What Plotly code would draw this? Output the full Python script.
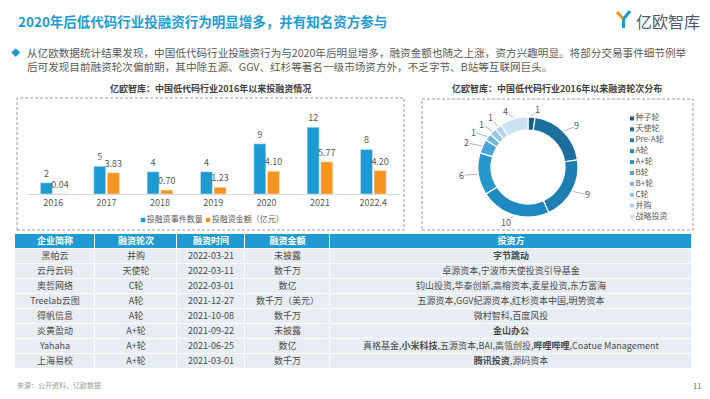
import math
import plotly.graph_objects as go

W, H = 710, 399

# ---------------- data ----------------
years = ["2016", "2017", "2018", "2019", "2020", "2021", "2022.4"]
series_names = ["投融资事件数量", "投融资金额（亿元）"]
deal_counts = [2, 5, 4, 4, 9, 12, 8]
deal_amounts = [0.04, 3.83, 0.70, 1.23, 4.10, 5.77, 4.20]

rounds = ["种子轮", "天使轮", "Pre-A轮", "A轮", "A+轮", "B轮", "B+轮", "C轮", "并购", "战略投资"]
round_counts = [1, 9, 9, 10, 6, 2, 1, 1, 1, 4]
round_colors = ["#145f86", "#1a6f9c", "#1d7eb1", "#1f8ac2", "#2696cd", "#4aa6d6",
                "#72b6de", "#94c6e5", "#b3d5ed", "#c9e1f3"]

tbl_headers = ["企业简称", "融资轮次", "融资时间", "融资金额", "投资方"]
tbl_company = ["黑帕云", "云丹云码", "奥哲网络", "Treelab云图", "得帆信息", "炎黄盈动", "Yahaha", "上海易校"]
tbl_round = ["并购", "天使轮", "C轮", "A轮", "A轮", "A+轮", "A+轮", "A+轮"]
tbl_date = ["2022-03-21", "2022-03-11", "2022-03-01", "2021-12-27", "2021-10-08",
            "2021-09-22", "2021-06-25", "2021-03-01"]
tbl_amount = ["未披露", "数千万", "数亿", "数千万（美元）", "数千万", "未披露", "数亿", "数千万"]
tbl_investor = ["<b>字节跳动</b>",
                "卓源资本,宁波市天使投资引导基金",
                "钧山投资,华泰创新,高榕资本,麦星投资,东方富海",
                "五源资本,GGV纪源资本,红杉资本中国,明势资本",
                "微村智科,百度风投",
                "<b>金山办公</b>",
                "真格基金,<b>小米科技</b>,五源资本,BAI,高瓴创投,<b>哔哩哔哩</b>,Coatue Management",
                "<b>腾讯投资</b>,源码资本"]

# ---------------- style constants ----------------
FONT = "Noto Sans CJK SC, Noto Sans, sans-serif"
BLUE = "#1e9bd3"
ORANGE = "#f7941d"
GRAY = "#595959"
COL_WIDTHS = [80, 82, 68, 85, 362]
LEGEND_X = [143, 208]


def px(x):
    return x / W


def py(y):
    return 1 - y / H


fig = go.Figure()

# ---------------- bar chart ----------------
fig.add_trace(go.Bar(
    x=years, y=deal_counts, name=series_names[0], marker_color=BLUE,
    texttemplate="%{y}", textposition="outside", constraintext="none",
    textfont=dict(size=9, color=GRAY), cliponaxis=False, showlegend=False,
    hoverinfo="skip",
))
fig.add_trace(go.Bar(
    x=years, y=deal_amounts, name=series_names[1], marker_color=ORANGE,
    texttemplate="%{y:.2f}", textposition="outside", constraintext="none",
    textfont=dict(size=9, color=GRAY), cliponaxis=False, showlegend=False,
    hoverinfo="skip",
))
# compact bar legend (marker + text)
fig.add_trace(go.Scatter(
    x=LEGEND_X, y=[0, 0], mode="markers+text", text=series_names,
    textposition="middle right", textfont=dict(size=8, color=GRAY, family=FONT),
    marker=dict(symbol="square", size=4.5, color=[BLUE, ORANGE]),
    xaxis="x4", yaxis="y4", showlegend=False, hoverinfo="skip", cliponaxis=False,
))

# ---------------- donut ----------------
PIE_CX, PIE_CY, PIE_R = 528, 167, 50
fig.add_trace(go.Pie(
    labels=rounds, values=round_counts, sort=False, direction="clockwise",
    rotation=0, hole=0.74, textinfo="none", showlegend=False,
    marker=dict(colors=round_colors, line=dict(color="white", width=1.2)),
    domain=dict(x=[px(PIE_CX - PIE_R), px(PIE_CX + PIE_R)],
                y=[py(PIE_CY + PIE_R), py(PIE_CY - PIE_R)]),
    hoverinfo="skip",
))

# donut value labels with leader lines, angles derived from the values
total = sum(round_counts)
mids = []
cum = 0
for v in round_counts:
    mids.append((cum + v / 2) / total * 360)
    cum += v
lab_angles = []
for a in mids:
    if lab_angles and a - lab_angles[-1] < 11:
        a = lab_angles[-1] + 11
    lab_angles.append(a)

annotations = []
for v, a_mid, a_lab in zip(round_counts, mids, lab_angles):
    r0 = PIE_R + 1
    x0 = PIE_CX + r0 * math.sin(math.radians(a_mid))
    y0 = PIE_CY - r0 * math.cos(math.radians(a_mid))
    s = math.sin(math.radians(a_lab))
    c = math.cos(math.radians(a_lab))
    x1 = PIE_CX + (PIE_R + 12) * s + (5 if s >= 0 else -5)
    y1 = PIE_CY - (PIE_R + 8) * c
    annotations.append(dict(
        text=str(v), x=px(x0), y=py(y0), xref="paper", yref="paper",
        ax=x1 - x0, ay=y1 - y0, axref="pixel", ayref="pixel",
        showarrow=True, arrowhead=0, arrowwidth=0.8, arrowcolor="#a0a0a0",
        standoff=0, startstandoff=0, borderpad=0,
        font=dict(size=9, color=GRAY, family=FONT),
    ))

# donut legend drawn as a marker + text scatter
fig.add_trace(go.Scatter(
    x=[0] * len(rounds), y=list(range(len(rounds))), mode="markers+text",
    text=rounds, textposition="middle right",
    textfont=dict(size=8, color=GRAY, family=FONT),
    marker=dict(symbol="square", size=4, color=round_colors),
    xaxis="x3", yaxis="y3", showlegend=False, hoverinfo="skip", cliponaxis=False,
))

# ---------------- table (heatmap cells + text) ----------------
edges = [0]
for w in COL_WIDTHS:
    edges.append(edges[-1] + w)
centers = [(edges[i] + edges[i + 1]) / 2 for i in range(len(COL_WIDTHS))]
n_rows = len(tbl_company)
row_y = [-1] + list(range(n_rows))
z = [[0] * len(tbl_headers)] + [[1] * len(tbl_headers) for _ in range(n_rows)]

fig.add_trace(go.Heatmap(
    x=edges, y=row_y, z=z, zmin=0, zmax=1, showscale=False,
    colorscale=[[0, "#1f9bd2"], [0.5, "#1f9bd2"], [0.5, "#e8edf3"], [1, "#e8edf3"]],
    xgap=1, ygap=1, hoverinfo="skip", xaxis="x2", yaxis="y2",
))
fig.add_trace(go.Scatter(
    x=centers, y=[-1] * len(tbl_headers), mode="text",
    text=[f"<b>{h}</b>" for h in tbl_headers],
    textfont=dict(size=9, color="white", family=FONT),
    xaxis="x2", yaxis="y2", showlegend=False, hoverinfo="skip",
))
for ci, col in enumerate([tbl_company, tbl_round, tbl_date, tbl_amount, tbl_investor]):
    fig.add_trace(go.Scatter(
        x=[centers[ci]] * n_rows, y=list(range(n_rows)), mode="text", text=col,
        textfont=dict(size=9, color="#4a4a4a", family=FONT),
        xaxis="x2", yaxis="y2", showlegend=False, hoverinfo="skip",
    ))

# ---------------- layout ----------------
DASH = "3px,2px"
shapes = [
    dict(type="rect", xref="paper", yref="paper", x0=px(17), x1=px(404), y0=py(230), y1=py(98),
         line=dict(color="#9a9a9a", width=1, dash=DASH)),
    dict(type="rect", xref="paper", yref="paper", x0=px(422), x1=px(693), y0=py(230), y1=py(99),
         line=dict(color="#9a9a9a", width=1, dash=DASH)),
    # logo icon
    dict(type="line", xref="paper", yref="paper", x0=px(617), x1=px(623.5), y0=py(12), y1=py(19),
         line=dict(color="#f7941d", width=3)),
    dict(type="line", xref="paper", yref="paper", x0=px(630), x1=px(623.5), y0=py(11), y1=py(19),
         line=dict(color="#1e9bd3", width=3)),
    dict(type="line", xref="paper", yref="paper", x0=px(623.5), x1=px(623.5), y0=py(19), y1=py(28),
         line=dict(color="#1e9bd3", width=3)),
]


def note(text, x, y, size, color, xanchor="left", bold=False):
    return dict(text=f"<b>{text}</b>" if bold else text, x=px(x), y=py(y),
                xref="paper", yref="paper", xanchor=xanchor, yanchor="middle",
                showarrow=False, font=dict(size=size, color=color, family=FONT))


annotations += [
    note("2020年后低代码行业投融资行为明显增多，并有知名资方参与", 16, 21, 13.5, "#1e9bd3", bold=True),
    note("亿欧智库", 634, 21, 16, "#4d5b6b"),
    note("◆", 9, 52, 9, "#1e9bd3"),
    note("从亿欧数据统计结果发现，中国低代码行业投融资行为与2020年后明显增多，融资金额也随之上涨，资方兴趣明显。将部分交易事件细节例举",
         25, 52, 10.6, GRAY),
    note("后可发现目前融资轮次偏前期，其中除五源、GGV、红杉等著名一级市场资方外，不乏字节、B站等互联网巨头。",
         25, 66, 10.6, GRAY),
    note("亿欧智库：中国低代码行业2016年以来投融资情况", 210, 88, 9, "#404040", "center", True),
    note("亿欧智库：中国低代码行业2016年以来融资轮次分布", 557, 89, 9, "#404040", "center", True),
    note("来源：公开资料，亿欧数据", 15, 385, 7, "#9a9a9a"),
    note("11", 703, 385, 7.5, "#666666", "right"),
]

fig.update_layout(
    width=W, height=H, margin=dict(l=0, r=0, t=0, b=0),
    paper_bgcolor="white", plot_bgcolor="rgba(0,0,0,0)",
    font=dict(family=FONT, color=GRAY), showlegend=False,
    barmode="group", bargap=0.49, bargroupgap=0.12,
    xaxis=dict(domain=[px(26.5), px(400)], showline=True, linecolor="#d9d9d9", linewidth=1,
               ticks="", showgrid=False, tickfont=dict(size=9, color=GRAY), fixedrange=True),
    yaxis=dict(domain=[py(194), py(116)], range=[0, 14], visible=False, fixedrange=True),
    xaxis2=dict(domain=[px(15), px(692)], range=[0, edges[-1]], visible=False, fixedrange=True),
    yaxis2=dict(domain=[py(369), py(234)], range=[n_rows - 0.5, -1.5], visible=False,
                fixedrange=True),
    xaxis3=dict(domain=[px(626.5), px(686.5)], range=[-0.1, 1], visible=False, fixedrange=True),
    yaxis3=dict(domain=[py(222), py(113)], range=[len(rounds) - 0.5, -0.5], visible=False,
                fixedrange=True),
    xaxis4=dict(domain=[0, 1], range=[0, W], visible=False, fixedrange=True),
    yaxis4=dict(domain=[py(225), py(215)], range=[-1, 1], visible=False, fixedrange=True),
    shapes=shapes, annotations=annotations,
)

fig.write_html("out.html", config={"displayModeBar": False},
               post_script="document.body.style.margin='0px';document.body.style.overflow='hidden';")
